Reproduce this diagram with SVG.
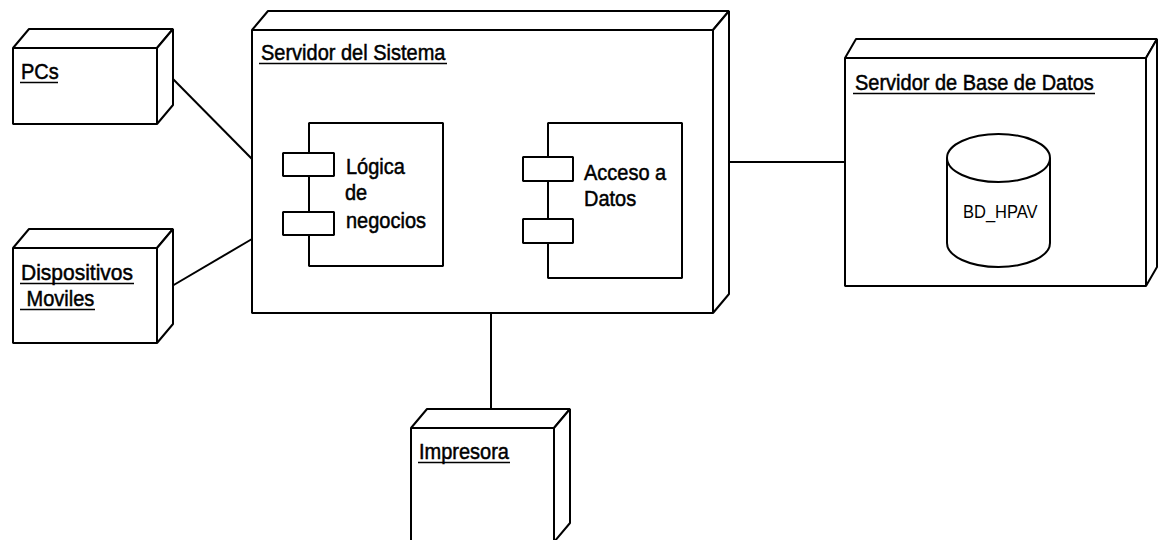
<svg xmlns="http://www.w3.org/2000/svg" width="1158" height="540" viewBox="0 0 1158 540">
  <style>
    .box { fill: #fff; stroke: #000; stroke-width: 2; stroke-linejoin: bevel; }
    .face { fill: #fff; stroke: #000; stroke-width: 2; stroke-linejoin: bevel; }
    .conn { stroke: #000; stroke-width: 2; fill: none; }
    .ul { stroke: #000; stroke-width: 1.6; }
    .lbl { font-family: "Liberation Sans", Arial, sans-serif; font-size: 20px; fill: #000; stroke: #000; stroke-width: 0.45; }
    .db { font-family: "Liberation Sans", Arial, sans-serif; font-size: 16.5px; fill: #000; }
  </style>
  <rect width="1158" height="540" fill="#fff"/>

  <!-- connectors -->
  <g id="connectors">
    <line class="conn" x1="172" y1="78" x2="252" y2="159"/>
    <line class="conn" x1="172" y1="286" x2="252" y2="239"/>
    <line class="conn" x1="729" y1="162" x2="845" y2="162"/>
    <line class="conn" x1="491" y1="313" x2="491" y2="409"/>
  </g>

  <!-- PCs -->
  <g id="node-pcs">
    <path class="face" d="M13,48 L29,29 L173,29 L157,48 Z"/>
    <path class="face" d="M157,48 L173,29 L173,105 L157,124 Z"/>
    <rect class="box" x="13" y="48" width="144" height="76"/>
    <text class="lbl" transform="translate(21,79) scale(1,1.12)">PCs</text>
    <line class="ul" x1="20" y1="82.5" x2="58" y2="82.5"/>
  </g>

  <!-- Dispositivos Moviles -->
  <g id="node-dispositivos">
    <path class="face" d="M13,248 L29,229 L173,229 L157,248 Z"/>
    <path class="face" d="M157,248 L173,229 L173,324 L157,343 Z"/>
    <rect class="box" x="13" y="248" width="144" height="95"/>
    <text class="lbl" transform="translate(21,280) scale(1,1.12)" textLength="112" lengthAdjust="spacingAndGlyphs">Dispositivos</text>
    <line class="ul" x1="20" y1="283.5" x2="134" y2="283.5"/>
    <text class="lbl" transform="translate(21,306) scale(1,1.12)" xml:space="preserve"> Moviles</text>
    <line class="ul" x1="20" y1="309.5" x2="95" y2="309.5"/>
  </g>

  <!-- Servidor del Sistema -->
  <g id="node-servidor">
    <path class="face" d="M252,30 L268,11 L729,11 L713,30 Z"/>
    <path class="face" d="M713,30 L729,11 L729,294 L713,313 Z"/>
    <rect class="box" x="252" y="30" width="461" height="283"/>
    <text class="lbl" transform="translate(261,60) scale(1,1.12)">Servidor del Sistema</text>
    <line class="ul" x1="259" y1="63.5" x2="447" y2="63.5"/>

    <!-- component: Lógica de negocios -->
    <g id="comp-logica">
      <rect class="box" x="309" y="123" width="134" height="143"/>
      <rect class="box" x="283" y="153" width="51" height="23"/>
      <rect class="box" x="283" y="212" width="51" height="23"/>
      <text class="lbl" transform="translate(346,174) scale(1,1.12)">Lógica</text>
      <text class="lbl" transform="translate(345,200) scale(1,1.12)">de</text>
      <text class="lbl" transform="translate(346,228) scale(1,1.12)">negocios</text>
    </g>

    <!-- component: Acceso a Datos -->
    <g id="comp-acceso">
      <rect class="box" x="548" y="123" width="134" height="155"/>
      <rect class="box" x="523" y="157" width="50" height="24"/>
      <rect class="box" x="523" y="219" width="50" height="24"/>
      <text class="lbl" transform="translate(584,180) scale(1,1.12)">Acceso a</text>
      <text class="lbl" transform="translate(584,206) scale(1,1.12)">Datos</text>
    </g>
  </g>

  <!-- Servidor de Base de Datos -->
  <g id="node-basedatos">
    <path class="face" d="M845,58 L856,39 L1157,39 L1146,58 Z"/>
    <path class="face" d="M1146,58 L1157,39 L1157,267 L1146,286 Z"/>
    <rect class="box" x="845" y="58" width="301" height="228"/>
    <text class="lbl" transform="translate(855,90) scale(1,1.12)">Servidor de Base de Datos</text>
    <line class="ul" x1="853" y1="93.5" x2="1095" y2="93.5"/>

    <!-- database cylinder -->
    <g id="db-hpav">
      <path class="box" d="M947,158 L947,243 A51.5,24 0 0 0 1050,243 L1050,158"/>
      <ellipse class="box" cx="998.5" cy="158" rx="51.5" ry="24"/>
      <text class="db" transform="translate(963,218) scale(1,1.15)">BD_HPAV</text>
    </g>
  </g>

  <!-- Impresora -->
  <g id="node-impresora">
    <path class="face" d="M411,428 L427,409 L570,409 L554,428 Z"/>
    <path class="face" d="M554,428 L570,409 L570,523 L554,542 Z"/>
    <rect class="box" x="411" y="428" width="143" height="114"/>
    <text class="lbl" transform="translate(419,459) scale(1,1.12)">Impresora</text>
    <line class="ul" x1="418" y1="462.5" x2="510" y2="462.5"/>
  </g>
</svg>
